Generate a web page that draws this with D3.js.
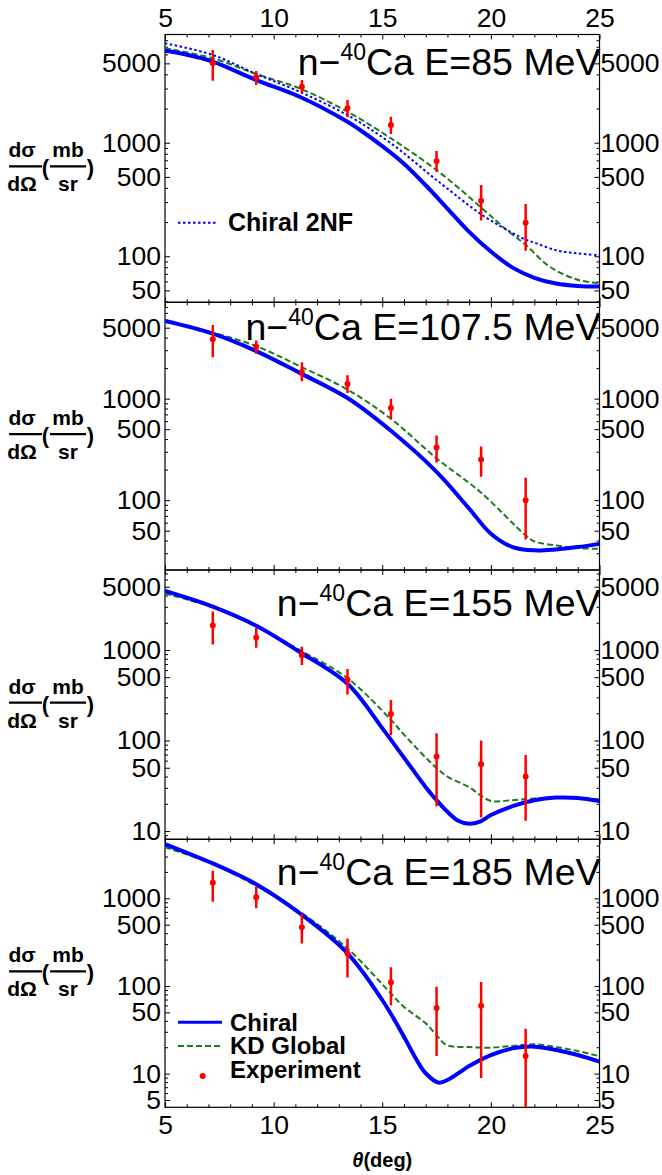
<!DOCTYPE html>
<html>
<head>
<meta charset="utf-8">
<script src="https://cdn.jsdelivr.net/npm/d3@7"></script>
<style>
body { margin: 0; background: #fff; }
text { font-family: "Liberation Sans", Arial, sans-serif; fill: #000; }
</style>
</head>
<body>
<div id="chart"></div>
<script>
// ---- data ----
var energy_labels = ["85", "107.5", "155", "185"];
var x_major_ticks = [5, 10, 15, 20, 25];
var y_domains = [[39.3, 8980], [20.5, 8900], [8.1, 7650], [4.13, 4710]];
var y_tick_labels = [
  [50, 100, 500, 1000, 5000],
  [50, 100, 500, 1000, 5000],
  [10, 50, 100, 500, 1000, 5000],
  [5, 10, 50, 100, 500, 1000]
];
var theta_exp = [7.2, 9.2, 11.3, 13.4, 15.4, 17.5, 19.55, 21.6];

// 85 MeV
var chiral_theta_85 = [5, 6, 7.2, 9.2, 11.2, 13.4, 14, 15, 16, 17, 18, 19, 20, 21, 22, 23, 24, 25];
var chiral_85       = [6460, 5960, 5180, 3565, 2540, 1530, 1288, 933, 653, 422, 263, 164, 110, 79.4, 64.6, 57.5, 54.7, 54.1];
var nf2_theta_85    = [5, 7.2, 9.2, 11.2, 13.4, 15.4, 17.6, 19.6, 21, 21.6, 22, 23, 24, 25];
var nf2_85          = [7520, 5930, 4030, 2810, 1750, 988, 453, 231, 160, 140, 132, 113, 106, 102];
var kd_theta_85     = [5, 7.2, 9.2, 11.2, 13.4, 15.4, 17.6, 19.6, 20.7, 21.6, 22.7, 24, 25];
var kd_85           = [6790, 5540, 4030, 3010, 1875, 1093, 555, 264, 172, 126, 81, 62, 57.7];
var exp_85    = [5010, 3770, 3110, 2010, 1432, 690, 308, 197];
var exp_hi_85 = [6560, 4285, 3565, 2375, 1693, 845, 424, 288];
var exp_lo_85 = [3514, 3220, 2725, 1675, 1193, 555, 206, 112];

// 107.5 MeV
var chiral_theta_107 = [5, 7.2, 9.2, 11.2, 13.4, 15.4, 17.5, 19, 20, 21, 22, 23, 24, 25];
var chiral_107       = [5820, 4365, 2940, 1795, 1014, 482, 190, 82.6, 46.7, 34.5, 32.0, 32.7, 34.5, 37.1];
var kd_theta_107     = [5, 7.2, 9.2, 11.2, 13.4, 15.4, 17.5, 19.5, 21.6, 22, 23, 24, 25];
var kd_107           = [5730, 4470, 3295, 2090, 1228, 634, 258, 121, 45, 39.2, 35.8, 33.7, 33.1];
var exp_107    = [3840, 3245, 1832, 1396, 807, 330, 252, 100];
var exp_hi_107 = [5320, 3750, 2287, 1700, 1000, 434, 338, 166];
var exp_lo_107 = [2565, 2770, 1484, 1136, 628, 235, 170, 41];

// 155 MeV
var chiral_theta_155 = [5, 7.2, 9.2, 11.2, 13.4, 15, 16, 17, 17.5, 18, 18.5, 19, 19.5, 20, 21, 22, 23, 24, 25];
var chiral_155       = [4490, 3010, 1850, 950, 423, 137, 64.7, 30.5, 21.9, 16.3, 13.0, 12.0, 12.7, 15.0, 18.8, 21.9, 23.4, 23.2, 21.5];
var kd_theta_155     = [5, 7.2, 9.2, 11.2, 13.4, 15.4, 16, 17, 17.5, 18, 19, 19.5, 20, 21, 22, 23, 24, 25];
var kd_155           = [4200, 2960, 1820, 1000, 488, 169, 116, 64.7, 49.6, 39.9, 30.5, 25, 21.5, 21.9, 22.9, 23.4, 23.1, 22.3];
var exp_155    = [1870, 1370, 873, 468, 196, 66.4, 54.8, 39.9];
var exp_hi_155 = [2655, 1746, 1086, 615, 281, 120, 100, 69.2];
var exp_lo_155 = [1150, 1059, 681, 322, 114, 18.8, 14.1, 13.0];

// 185 MeV
var chiral_theta_185 = [5, 7.2, 8, 9.2, 11.2, 13.4, 15, 16, 16.5, 17, 17.6, 18, 18.5, 19, 20, 21, 22, 23, 24, 25];
var chiral_185       = [4160, 2506, 2040, 1445, 675, 236, 69.2, 26.4, 15.6, 10.1, 7.9, 8.45, 10.1, 12.2, 16.3, 19.4, 20.3, 18.6, 16.3, 13.7];
var kd_theta_185     = [5, 7.2, 9.2, 11.2, 13.4, 15.4, 16, 17, 17.5, 17.95, 19, 20, 21, 22, 23, 24, 25];
var kd_185           = [3820, 2465, 1383, 703, 268, 82, 57.7, 37.5, 27.5, 21.2, 20.1, 19.8, 20.7, 21.6, 20.1, 18.1, 15.8];
var exp_185    = [1508, 1026, 467, 235, 110, 56.2, 59.3, 15.9];
var exp_hi_185 = [2066, 1358, 662, 349, 163, 97.7, 111, 32.6];
var exp_lo_185 = [915, 769, 306, 125, 60.2, 15.9, 8.9, 3];

// ---- layout ----
var width_chart  = 662;
var height_chart = 1175;
var left_frame   = 165;
var right_frame  = 599.5;
var panel_edges  = [34.5, 302.3, 570, 839.3, 1107.3];
var title_baselines = [75, 340, 616, 885];

var color_chiral = "#0000ff";
var color_kd     = "#1f7a1f";
var color_exp    = "#ff0000";

var panels = [
  {chiral_theta: chiral_theta_85, chiral: chiral_85, kd_theta: kd_theta_85, kd: kd_85,
   nf2_theta: nf2_theta_85, nf2: nf2_85, exp: exp_85, hi: exp_hi_85, lo: exp_lo_85},
  {chiral_theta: chiral_theta_107, chiral: chiral_107, kd_theta: kd_theta_107, kd: kd_107,
   exp: exp_107, hi: exp_hi_107, lo: exp_lo_107},
  {chiral_theta: chiral_theta_155, chiral: chiral_155, kd_theta: kd_theta_155, kd: kd_155,
   exp: exp_155, hi: exp_hi_155, lo: exp_lo_155},
  {chiral_theta: chiral_theta_185, chiral: chiral_185, kd_theta: kd_theta_185, kd: kd_185,
   exp: exp_185, hi: exp_hi_185, lo: exp_lo_185}
];

var svg_chart = d3.select("#chart").append("svg")
  .attr("width", width_chart)
  .attr("height", height_chart);

var x_chart = d3.scaleLinear().domain([5, 25]).range([left_frame, right_frame]);
var x_minor_ticks = d3.range(5, 26, 1).filter(function (d) { return d % 5 !== 0; });

function minor_log_ticks (domain, labels) {
  var out = [];
  for (var k = 0; k < 5; k++) {
    for (var m = 1; m < 10; m++) {
      var v = m*Math.pow(10, k);
      if (v >= domain[0] && v <= domain[1] && labels.indexOf(v) < 0) out.push(v);
    }
  }
  return out;
}

function style_axis (g) {
  g.select(".domain").remove();
  g.selectAll(".tick line").attr("stroke", "#000").attr("stroke-width", 1);
  g.selectAll(".tick text").style("font-size", "26.5px").attr("fill", "#000");
}

function draw_ylabel (cy) {
  var lab = svg_chart.append("g")
    .attr("transform", "translate(0," + cy + ")")
    .style("font-weight", "bold")
    .style("font-size", "21px");
  lab.append("text").attr("x", 22).attr("y", -9).attr("text-anchor", "middle").text("dσ");
  lab.append("text").attr("x", 22).attr("y", 25).attr("text-anchor", "middle").text("dΩ");
  lab.append("line").attr("x1", 9).attr("x2", 42).attr("y1", 0).attr("y2", 0)
    .attr("stroke", "#000").attr("stroke-width", 2.2);
  lab.append("text").attr("x", 45.5).attr("y", 9).attr("text-anchor", "middle").style("font-size", "22px").text("(");
  lab.append("text").attr("x", 68).attr("y", -9).attr("text-anchor", "middle").text("mb");
  lab.append("text").attr("x", 68).attr("y", 25).attr("text-anchor", "middle").text("sr");
  lab.append("line").attr("x1", 50).attr("x2", 86).attr("y1", 0).attr("y2", 0)
    .attr("stroke", "#000").attr("stroke-width", 2.2);
  lab.append("text").attr("x", 90.5).attr("y", 9).attr("text-anchor", "middle").style("font-size", "22px").text(")");
}

panels.forEach(function (p, i) {
  var top = panel_edges[i];
  var bottom = panel_edges[i + 1];
  var y_panel = d3.scaleLog().domain(y_domains[i]).range([bottom, top]);
  var labels = y_tick_labels[i];
  var minors = minor_log_ticks(y_domains[i], labels);

  // clip
  svg_chart.append("clipPath").attr("id", "clip" + i)
    .append("rect")
    .attr("x", left_frame).attr("y", top)
    .attr("width", right_frame - left_frame).attr("height", bottom - top);

  // y axes, ticks inside the frame
  svg_chart.append("g").attr("transform", "translate(" + left_frame + ",0)")
    .call(d3.axisLeft(y_panel).tickValues(labels).tickSizeInner(-5).tickSizeOuter(0).tickPadding(4).tickFormat(d3.format("d")))
    .call(style_axis);
  svg_chart.append("g").attr("transform", "translate(" + left_frame + ",0)")
    .call(d3.axisLeft(y_panel).tickValues(minors).tickSizeInner(-3).tickSizeOuter(0).tickFormat(""))
    .call(style_axis);
  svg_chart.append("g").attr("transform", "translate(" + right_frame + ",0)")
    .call(d3.axisRight(y_panel).tickValues(labels).tickSizeInner(-5).tickSizeOuter(0).tickPadding(1).tickFormat(d3.format("d")))
    .call(style_axis);
  svg_chart.append("g").attr("transform", "translate(" + right_frame + ",0)")
    .call(d3.axisRight(y_panel).tickValues(minors).tickSizeInner(-3).tickSizeOuter(0).tickFormat(""))
    .call(style_axis);

  // x axes (top and bottom of every panel)
  var top_axis = d3.axisTop(x_chart).tickValues(x_major_ticks).tickSizeInner(-5).tickSizeOuter(0).tickPadding(8);
  if (i > 0) top_axis.tickFormat("");
  svg_chart.append("g").attr("transform", "translate(0," + top + ")").call(top_axis).call(style_axis);
  svg_chart.append("g").attr("transform", "translate(0," + top + ")")
    .call(d3.axisTop(x_chart).tickValues(x_minor_ticks).tickSizeInner(-3).tickSizeOuter(0).tickFormat(""))
    .call(style_axis);
  var bottom_axis = d3.axisBottom(x_chart).tickValues(x_major_ticks).tickSizeInner(-5).tickSizeOuter(0).tickPadding(8);
  if (i < 3) bottom_axis.tickFormat("");
  svg_chart.append("g").attr("transform", "translate(0," + bottom + ")").call(bottom_axis).call(style_axis);
  svg_chart.append("g").attr("transform", "translate(0," + bottom + ")")
    .call(d3.axisBottom(x_chart).tickValues(x_minor_ticks).tickSizeInner(-3).tickSizeOuter(0).tickFormat(""))
    .call(style_axis);

  // frame
  svg_chart.append("rect")
    .attr("x", left_frame).attr("y", top)
    .attr("width", right_frame - left_frame).attr("height", bottom - top)
    .attr("fill", "none").attr("stroke", "#000").attr("stroke-width", 1.2);

  var plot = svg_chart.append("g").attr("clip-path", "url(#clip" + i + ")");

  var line_panel = function (thetas) {
    return d3.line()
      .curve(d3.curveCatmullRom.alpha(0.5))
      .x(function (d, j) { return x_chart(thetas[j]); })
      .y(function (d) { return y_panel(d); });
  };

  plot.append("path").datum(p.kd)
    .attr("d", line_panel(p.kd_theta))
    .attr("fill", "none").attr("stroke", color_kd).attr("stroke-width", 2)
    .attr("stroke-dasharray", "6,3");

  plot.append("path").datum(p.chiral)
    .attr("d", line_panel(p.chiral_theta))
    .attr("fill", "none").attr("stroke", color_chiral).attr("stroke-width", 4)
    .attr("stroke-linejoin", "round");

  if (p.nf2) {
    plot.append("path").datum(p.nf2)
      .attr("d", line_panel(p.nf2_theta))
      .attr("fill", "none").attr("stroke", color_chiral).attr("stroke-width", 2)
      .attr("stroke-dasharray", "2.5,2.5");
  }

  plot.selectAll(".errbar").data(p.exp).enter().append("line")
    .attr("class", "errbar")
    .attr("x1", function (d, j) { return x_chart(theta_exp[j]); })
    .attr("x2", function (d, j) { return x_chart(theta_exp[j]); })
    .attr("y1", function (d, j) { return y_panel(p.lo[j]); })
    .attr("y2", function (d, j) { return y_panel(p.hi[j]); })
    .attr("stroke", color_exp).attr("stroke-width", 2.5);

  plot.selectAll(".pt").data(p.exp).enter().append("circle")
    .attr("class", "pt")
    .attr("cx", function (d, j) { return x_chart(theta_exp[j]); })
    .attr("cy", function (d) { return y_panel(d); })
    .attr("r", 3)
    .attr("fill", color_exp);

  // panel title
  var title = svg_chart.append("text")
    .attr("x", right_frame + 1)
    .attr("y", title_baselines[i])
    .attr("text-anchor", "end")
    .style("font-size", "37.5px");
  title.append("tspan").text("n−");
  title.append("tspan").attr("dy", -15).style("font-size", "23px").text("40");
  title.append("tspan").attr("dy", 15).text("Ca E=" + energy_labels[i] + " MeV");

  draw_ylabel((top + bottom)/2 - 2);
});

// legend, top panel
var legend_top = svg_chart.append("g").style("font-weight", "bold").style("font-size", "25px");
legend_top.append("line").attr("x1", 178).attr("x2", 218).attr("y1", 222.7).attr("y2", 222.7)
  .attr("stroke", color_chiral).attr("stroke-width", 2).attr("stroke-dasharray", "2.5,2.5");
legend_top.append("text").attr("x", 228).attr("y", 231).text("Chiral 2NF");

// legend, bottom panel
var legend_items = ["Chiral", "KD Global", "Experiment"];
var legend_bottom = svg_chart.append("g").style("font-weight", "bold").style("font-size", "24px");
legend_bottom.selectAll("text").data(legend_items).enter().append("text")
  .attr("x", 230)
  .attr("y", function (d, j) { return 1030.5 + j*23.5; })
  .text(function (d) { return d; });
legend_bottom.append("line").attr("x1", 178).attr("x2", 222).attr("y1", 1022.3).attr("y2", 1022.3)
  .attr("stroke", color_chiral).attr("stroke-width", 3);
legend_bottom.append("line").attr("x1", 178).attr("x2", 222).attr("y1", 1046).attr("y2", 1046)
  .attr("stroke", color_kd).attr("stroke-width", 2).attr("stroke-dasharray", "6,3");
legend_bottom.append("circle").attr("cx", 202.7).attr("cy", 1076).attr("r", 3).attr("fill", color_exp);

// x axis title
var xtitle = svg_chart.append("text")
  .attr("x", (left_frame + right_frame)/2)
  .attr("y", 1167)
  .attr("text-anchor", "middle")
  .style("font-weight", "bold")
  .style("font-size", "20px");
xtitle.append("tspan").style("font-style", "italic").text("θ");
xtitle.append("tspan").text("(deg)");
</script>
</body>
</html>
